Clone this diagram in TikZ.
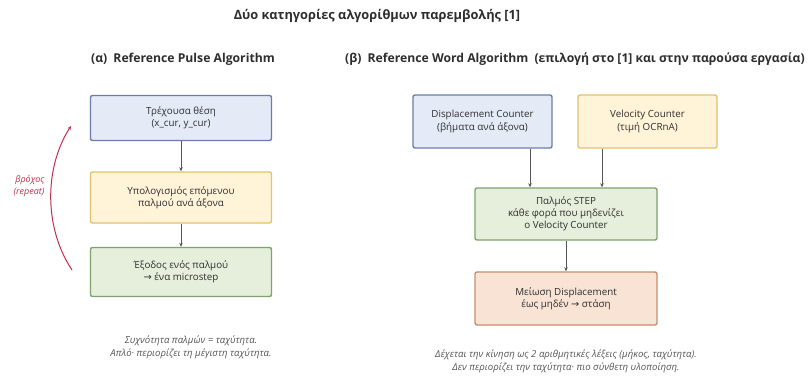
\documentclass[tikz,border=0pt]{standalone}
\usepackage{fontspec}
\setmainfont{Open Sans}
\newfontfamily\symfont{DejaVu Sans}
\newcommand{\toarrow}{{\symfont →}}
\usetikzlibrary{arrows.meta}
\definecolor{txt}{HTML}{2E2E2E}
\definecolor{notegray}{HTML}{555555}
\definecolor{bluefill}{HTML}{E4EAF6}
\definecolor{blueline}{HTML}{6D7EA6}
\definecolor{yelfill}{HTML}{FFF3D8}
\definecolor{yelline}{HTML}{E3C26E}
\definecolor{grnfill}{HTML}{E5EFDB}
\definecolor{grnline}{HTML}{7FA36C}
\definecolor{orgfill}{HTML}{F8E3D5}
\definecolor{orgline}{HTML}{C48E6E}
\definecolor{loopred}{HTML}{C2304C}
\definecolor{arrowgray}{HTML}{555555}
\tikzset{
  box/.style={draw, line width=1.4pt, rounded corners=2pt, align=center,
    font=\fontsize{9.8}{12.2}\selectfont, text=txt, inner sep=0pt},
  bluebox/.style={box, fill=bluefill, draw=blueline},
  yelbox/.style={box, fill=yelfill, draw=yelline},
  grnbox/.style={box, fill=grnfill, draw=grnline},
  orgbox/.style={box, fill=orgfill, draw=orgline},
  flow/.style={draw=arrowgray, line width=0.9pt, -{Stealth[length=4pt,width=3.5pt]}},
  heading/.style={font=\bfseries\fontsize{12.2}{14}\selectfont, text=txt},
  note/.style={font=\itshape\fontsize{9.6}{13}\selectfont, text=notegray, align=center},
}
\begin{document}
\begin{tikzpicture}[x=1pt,y=-1pt]
\useasboundingbox (0,0) rectangle (809,378);
\fill[white] (0,0) rectangle (809,378);

% title and column headings
\node[font=\bfseries\fontsize{12.8}{15}\selectfont, text=txt] (title) at (377,16) {Δύο κατηγορίες αλγορίθμων παρεμβολής [1]};
\node[heading] (ha) at (183,59) {(α)\enspace Reference Pulse Algorithm};
\node[heading] (hb) at (575,59) {(β)\enspace Reference Word Algorithm\enspace (επιλογή στο [1] και στην παρούσα εργασία)};

% (α) pulse algorithm chain
\node[bluebox, minimum width=181pt, minimum height=45pt] (a1) at (181,118) {Τρέχουσα θέση\\(x\_cur, y\_cur)};
\node[yelbox, minimum width=181pt, minimum height=51pt] (a2) at (181,197.5) {Υπολογισμός επόμενου\\παλμού ανά άξονα};
\node[grnbox, minimum width=181pt, minimum height=49pt] (a3) at (181,272) {Έξοδος ενός παλμού\\\toarrow{} ένα microstep};
\draw[flow] (a1) -- (a2);
\draw[flow] (a2) -- (a3);

% repeat loop
\coordinate (lbot) at (72,270);
\coordinate (ltop) at (71,126);
\draw[loopred, line width=1pt, -{Stealth[length=4pt,width=3.5pt]}] (lbot) .. controls (44,228) and (44,168) .. (ltop);
\node[font=\itshape\fontsize{9}{11.5}\selectfont, text=loopred, align=right, anchor=east] (loop) at (48,186) {βρόχος\\(repeat)};

\node[note] (na) at (191,347) {Συχνότητα παλμών = ταχύτητα.\\Απλό· περιορίζει τη μέγιστη ταχύτητα.};

% (β) word algorithm
\node[bluebox, minimum width=139pt, minimum height=53pt] (dc) at (482.5,121.5) {Displacement Counter\\(βήματα ανά άξονα)};
\node[yelbox, minimum width=139pt, minimum height=53pt] (vc) at (647.5,121.5) {Velocity Counter\\(τιμή OCRnA)};
\node[grnbox, minimum width=182pt, minimum height=52pt] (st) at (566,214) {Παλμός STEP\\κάθε φορά που μηδενίζει\\ο Velocity Counter};
\node[orgbox, minimum width=182pt, minimum height=53pt] (md) at (566,298.5) {Μείωση Displacement\\έως μηδέν \toarrow{} στάση};
\draw[flow] (dc.south -| 530,0) -- (st.north -| 530,0);
\draw[flow] (vc.south -| 602,0) -- (st.north -| 602,0);
\draw[flow] (st) -- (md);

\node[note] (nb) at (566,361) {Δέχεται την κίνηση ως 2 αριθμητικές λέξεις (μήκος, ταχύτητα).\\Δεν περιορίζει την ταχύτητα· πιο σύνθετη υλοποίηση.};
\end{tikzpicture}
\end{document}
